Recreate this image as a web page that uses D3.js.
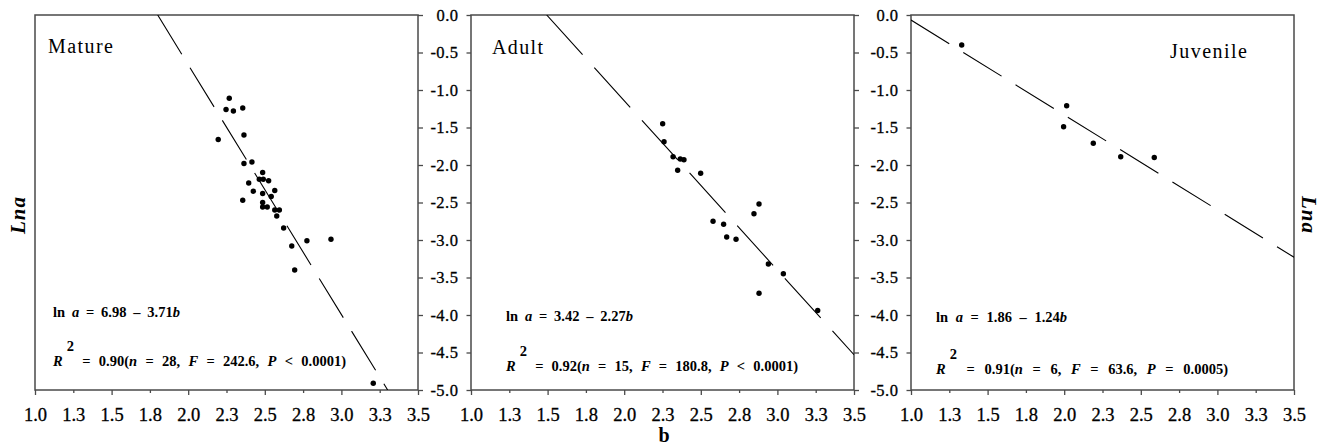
<!DOCTYPE html>
<html>
<head>
<meta charset="utf-8">
<script src="https://cdn.jsdelivr.net/npm/d3@7"></script>
<style>
body { margin: 0; background: #fff; }
svg text { font-family: "Liberation Serif", "Times New Roman", Times, serif; }
.tick text { stroke: #000; stroke-width: 0.3px; }
</style>
</head>
<body>
<div id="chart"></div>
<script>
// Tick values and labels (shared by the three panels)
const xTickValues = [1.0, 1.25, 1.5, 1.75, 2.0, 2.25, 2.5, 2.75, 3.0, 3.25, 3.5];
const xTickLabels = ["1.0", "1.3", "1.5", "1.8", "2.0", "2.3", "2.5", "2.8", "3.0", "3.3", "3.5"];
const yTickValues = [0, -0.5, -1, -1.5, -2, -2.5, -3, -3.5, -4, -4.5, -5];
const yTickLabels = ["0.0", "-0.5", "-1.0", "-1.5", "-2.0", "-2.5", "-3.0", "-3.5", "-4.0", "-4.5", "-5.0"];

const panelNames = ["Mature", "Adult", "Juvenile"];

// Mature: b vs ln a
const matureB = [2.268, 2.247, 2.295, 2.356, 2.196, 2.364, 2.364, 2.416, 2.486, 2.464,
    2.490, 2.525, 2.395, 2.425, 2.486, 2.565, 2.542, 2.356, 2.486, 2.486,
    2.516, 2.565, 2.595, 2.578, 2.623, 2.676, 2.775, 2.932, 2.695, 3.208];
const matureLna = [-1.11, -1.26, -1.28, -1.24, -1.66, -1.60, -1.98, -1.96, -2.10, -2.19,
    -2.19, -2.21, -2.24, -2.35, -2.38, -2.34, -2.42, -2.47, -2.50, -2.56,
    -2.56, -2.60, -2.60, -2.68, -2.84, -3.08, -3.01, -2.99, -3.40, -4.91];

// Adult
const adultB = [2.251, 2.260, 2.319, 2.366, 2.390, 2.349, 2.499, 2.847, 2.880,
    2.580, 2.649, 2.669, 2.730, 2.941, 3.039, 2.880, 3.263];
const adultLna = [-1.45, -1.69, -1.89, -1.92, -1.93, -2.07, -2.11, -2.65, -2.52,
    -2.75, -2.79, -2.96, -2.99, -3.32, -3.45, -3.71, -3.94];

// Juvenile
const juvenileB = [1.331, 2.016, 1.996, 2.190, 2.369, 2.588];
const juvenileLna = [-0.40, -1.21, -1.49, -1.71, -1.89, -1.90];

// Fitted lines, as drawn (end points)
const matureFitB = [1.801, 3.302];
const matureFitLna = [0, -5.0];
const adultFitB = [1.494, 3.5];
const adultFitLna = [0, -4.53];
const juvenileFitB = [1.0, 3.5];
const juvenileFitLna = [-0.067, -3.23];

// Regression text
const intercepts = ["6.98", "3.42", "1.86"];
const slopes = ["3.71", "2.27", "1.24"];
const r2Values = ["0.90", "0.92", "0.91"];
const nValues = ["28", "15", "6"];
const fValues = ["242.6", "180.8", "63.6"];
const pSigns = ["<", "<", "="];
const pValues = ["0.0001", "0.0001", "0.0005"];

const W = 1320, H = 447;
const panelW = 383, panelH = 375, panelTop = 15;
const frameColor = "#4a4a4a";

const panels = [
    { left: 35, b: matureB, lna: matureLna, fitB: matureFitB, fitLna: matureFitLna,
      dash: "46,15.8", leftAxis: false, rightTicks: true,
      nameX: 13, nameY: 38, nameW: 65, eqX: 18, eqY: 302, statY: 351, eqW: 127, statW: 293 },
    { left: 471, b: adultB, lna: adultLna, fitB: adultFitB, fitLna: adultFitLna,
      dash: "53.5,17.5", leftAxis: true, rightTicks: true,
      nameX: 21, nameY: 39, nameW: 51, eqX: 35, eqY: 306, statY: 356, eqW: 127, statW: 292 },
    { left: 911, b: juvenileB, lna: juvenileLna, fitB: juvenileFitB, fitLna: juvenileFitLna,
      dash: "45,16.5", leftAxis: true, rightTicks: false,
      nameX: 259, nameY: 43, nameW: 77, eqX: 25, eqY: 307, statY: 359, eqW: 131, statW: 292 }
];

const svg = d3.select("#chart").append("svg")
    .attr("width", W)
    .attr("height", H);

const xScale = d3.scaleLinear().domain([1.0, 3.5]).range([0, panelW]);
const yScale = d3.scaleLinear().domain([-5, 0]).range([panelH, 0]);

// stretch a text element to a target width with letter spacing
function fitWidth(sel, target) {
    const node = sel.node();
    const natural = node.getComputedTextLength();
    const n = node.textContent.length;
    if (n > 1) sel.attr("letter-spacing", (target - natural) / (n - 1));
}

// same, but only widen the spaces
function fitWords(sel, target) {
    const node = sel.node();
    const natural = node.getComputedTextLength();
    const n = node.textContent.split(" ").length - 1;
    if (n > 0) sel.attr("word-spacing", (target - natural) / n);
}

panels.forEach((p, i) => {
    const g = svg.append("g").attr("transform", `translate(${p.left},${panelTop})`);

    g.append("clipPath").attr("id", "clip" + i)
        .append("rect").attr("width", panelW).attr("height", panelH);

    // x axis
    const xAxis = g.append("g")
        .attr("transform", `translate(0,${panelH})`)
        .call(d3.axisBottom(xScale)
            .tickValues(xTickValues)
            .tickFormat((d, k) => xTickLabels[k])
            .tickSize(5)
            .tickPadding(12.5));
    xAxis.select(".domain").remove();
    xAxis.selectAll(".tick line")
        .attr("stroke", frameColor)
        .attr("stroke-width", 1.3)
        .attr("y2", (d, k) => k % 2 === 0 ? 5 : 3);
    xAxis.selectAll(".tick text")
        .attr("font-size", 18.5)
        .attr("fill", "#000");

    // left y axis with labels
    if (p.leftAxis) {
        const yAxis = g.append("g")
            .call(d3.axisLeft(yScale)
                .tickValues(yTickValues)
                .tickFormat((d, k) => yTickLabels[k])
                .tickSize(4.5)
                .tickPadding(8));
        yAxis.select(".domain").remove();
        yAxis.selectAll(".tick line").attr("stroke", frameColor).attr("stroke-width", 1.3);
        yAxis.selectAll(".tick text")
            .attr("font-size", 16.5)
            .attr("letter-spacing", 0.5)
            .attr("fill", "#000");
    }

    // outward ticks on the right border
    if (p.rightTicks) {
        const rAxis = g.append("g")
            .attr("transform", `translate(${panelW},0)`)
            .call(d3.axisRight(yScale)
                .tickValues(yTickValues)
                .tickFormat("")
                .tickSize(5));
        rAxis.select(".domain").remove();
        rAxis.selectAll(".tick line").attr("stroke", frameColor).attr("stroke-width", 1.3);
    }

    // frame
    g.append("rect")
        .attr("width", panelW)
        .attr("height", panelH)
        .attr("fill", "none")
        .attr("stroke", frameColor)
        .attr("stroke-width", 1.5);

    // fitted line
    const fit = p.fitB.map((b, k) => [b, p.fitLna[k]]);
    g.append("path")
        .datum(fit)
        .attr("clip-path", `url(#clip${i})`)
        .attr("fill", "none")
        .attr("stroke", "#000")
        .attr("stroke-width", 1.1)
        .attr("stroke-dasharray", p.dash)
        .attr("d", d3.line().x(d => xScale(d[0])).y(d => yScale(d[1])));

    // points
    g.selectAll(".dot")
        .data(p.b.map((b, k) => [b, p.lna[k]]))
        .join("circle")
        .attr("class", "dot")
        .attr("cx", d => xScale(d[0]))
        .attr("cy", d => yScale(d[1]))
        .attr("r", 2.7)
        .attr("fill", "#000");

    // panel name
    const name = g.append("text")
        .attr("x", p.nameX)
        .attr("y", p.nameY)
        .attr("font-size", 20)
        .text(panelNames[i]);
    fitWidth(name, p.nameW);

    // regression equation
    const eq = g.append("text")
        .attr("x", p.eqX)
        .attr("y", p.eqY)
        .attr("font-size", 14.5)
        .attr("font-weight", "bold")
        .style("white-space", "pre");
    eq.append("tspan").text("ln ");
    eq.append("tspan").attr("font-style", "italic").text("a");
    eq.append("tspan").text(` = ${intercepts[i]} \u2013 ${slopes[i]}`);
    eq.append("tspan").attr("font-style", "italic").text("b");
    fitWords(eq, p.eqW);

    const st = g.append("text")
        .attr("x", p.eqX)
        .attr("y", p.statY)
        .attr("font-size", 14.5)
        .attr("font-weight", "bold")
        .style("white-space", "pre");
    st.append("tspan").attr("font-style", "italic").text("R");
    st.append("tspan").attr("dx", 4).attr("dy", -15.5).text("2");
    st.append("tspan").attr("dy", 15.5).text(` = ${r2Values[i]}(`);
    st.append("tspan").attr("font-style", "italic").text("n");
    st.append("tspan").text(` = ${nValues[i]}, `);
    st.append("tspan").attr("font-style", "italic").text("F");
    st.append("tspan").text(` = ${fValues[i]}, `);
    st.append("tspan").attr("font-style", "italic").text("P");
    st.append("tspan").text(` ${pSigns[i]} ${pValues[i]})`);
    fitWords(st, p.statW - 4);
});

// axis titles
svg.append("text")
    .attr("transform", "translate(25,215) rotate(-90)")
    .attr("text-anchor", "middle")
    .attr("font-size", 21)
    .attr("font-weight", "bold")
    .attr("font-style", "italic")
    .attr("letter-spacing", 1)
    .text("Lna");

svg.append("text")
    .attr("transform", "translate(1302,215) rotate(90)")
    .attr("text-anchor", "middle")
    .attr("font-size", 21)
    .attr("font-weight", "bold")
    .attr("font-style", "italic")
    .attr("letter-spacing", 1)
    .text("Lna");

svg.append("text")
    .attr("x", 664)
    .attr("y", 442)
    .attr("text-anchor", "middle")
    .attr("font-size", 20)
    .attr("font-weight", "bold")
    .text("b");
</script>
</body>
</html>
